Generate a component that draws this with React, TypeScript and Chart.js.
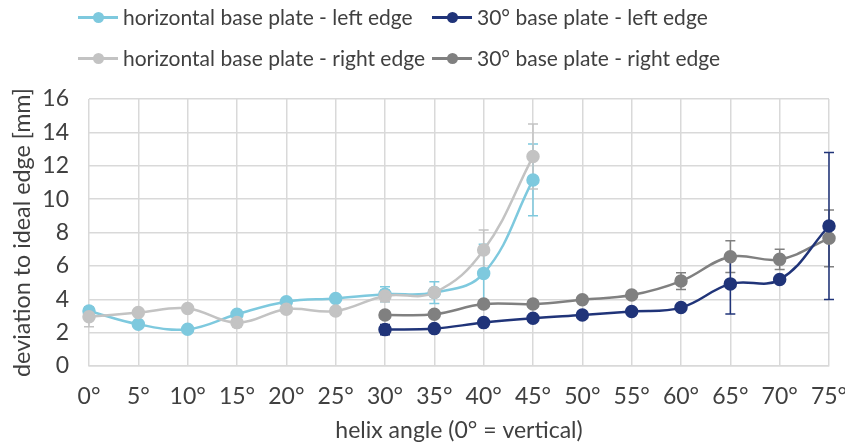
import React, { useEffect, useRef } from "react";
import { Chart, registerables } from "chart.js";

Chart.register(...registerables);

const categories = ["0°", "5°", "10°", "15°", "20°", "25°", "30°", "35°", "40°", "45°", "50°", "55°", "60°", "65°", "70°", "75°"];

const horizLeft = [3.3, 2.5, 2.2, 3.1, 3.85, 4.05, 4.3, 4.4, 5.55, 11.15, null, null, null, null, null, null];
const horizLeftErr = [0.15, 0.1, 0.1, 0.15, 0.15, 0.1, 0.45, 0.65, 1.75, 2.15, null, null, null, null, null, null];

const horizRight = [2.95, 3.2, 3.45, 2.6, 3.4, 3.3, 4.2, 4.4, 6.95, 12.55, null, null, null, null, null, null];
const horizRightErr = [0.6, 0.1, 0.1, 0.25, 0.2, 0.1, 0.35, 0.2, 1.2, 1.95, null, null, null, null, null, null];

const tiltLeft = [null, null, null, null, null, null, 2.18, 2.24, 2.6, 2.86, 3.06, 3.27, 3.5, 4.92, 5.18, 8.39];
const tiltLeftErr = [null, null, null, null, null, null, 0.3, 0.1, 0.1, 0.1, 0.1, 0.1, 0.1, 1.8, 0.1, 4.4];

const tiltRight = [null, null, null, null, null, null, 3.06, 3.1, 3.71, 3.71, 3.97, 4.25, 5.09, 6.55, 6.39, 7.65];
const tiltRightErr = [null, null, null, null, null, null, 0.1, 0.1, 0.1, 0.1, 0.1, 0.1, 0.5, 0.95, 0.6, 1.7];

const seriesNames = [
  "horizontal base plate - left edge",
  "30° base plate - left edge",
  "horizontal base plate - right edge",
  "30° base plate - right edge",
];
const colors = ["#7EC9DE", "#203479", "#C3C3C3", "#808080"];

const FONT = "Lato, 'Open Sans', sans-serif";
const FS = 23;
const LEGEND_FS = 21;

const errorBarPlugin = {
  id: "errorBars",
  beforeDatasetsDraw(chart: any) {
    const ctx = chart.ctx;
    const xs = chart.scales.x;
    const ys = chart.scales.y;
    chart.data.datasets.forEach((ds: any) => {
      const errs = ds.errors as (number | null)[];
      if (!errs) return;
      ctx.save();
      ctx.strokeStyle = ds.borderColor;
      ctx.lineWidth = 1.5;
      ds.data.forEach((v: number | null, i: number) => {
        const e = errs[i];
        if (v == null || e == null) return;
        const x = xs.getPixelForValue(i);
        const y1 = ys.getPixelForValue(v + e);
        const y2 = ys.getPixelForValue(v - e);
        ctx.beginPath();
        ctx.moveTo(x, y1);
        ctx.lineTo(x, y2);
        ctx.moveTo(x - 5, y1);
        ctx.lineTo(x + 5, y1);
        ctx.moveTo(x - 5, y2);
        ctx.lineTo(x + 5, y2);
        ctx.stroke();
      });
      ctx.restore();
    });
  },
};

function LegendItem({ color, label, left, top }: { color: string; label: string; left: number; top: number }) {
  return (
    <div style={{ position: "absolute", left, top, height: 24, display: "flex", alignItems: "center", whiteSpace: "nowrap" }}>
      <div style={{ position: "relative", width: 40, height: 12, marginRight: 5 }}>
        <div style={{ position: "absolute", left: 0, right: 0, top: 5, height: 3, background: color }} />
        <div style={{ position: "absolute", left: 15, top: 1, width: 11, height: 11, borderRadius: "50%", background: color }} />
      </div>
      <span style={{ lineHeight: "24px" }}>{label}</span>
    </div>
  );
}

export default function App() {
  const canvasRef = useRef<HTMLCanvasElement>(null);

  useEffect(() => {
    document.body.style.margin = "0";
    const mk = (i: number, data: any[], errs: any[], order: number) => ({
      label: seriesNames[i],
      data,
      errors: errs,
      borderColor: colors[i],
      backgroundColor: colors[i],
      pointBackgroundColor: colors[i],
      pointBorderColor: colors[i],
      pointRadius: 5.5,
      pointHoverRadius: 5.5,
      borderWidth: 2.5,
      tension: 0.4,
      order,
    });
    const chart = new Chart(canvasRef.current!, {
      type: "line",
      data: {
        labels: categories,
        datasets: [
          mk(3, tiltRight, tiltRightErr, 4),
          mk(1, tiltLeft, tiltLeftErr, 3),
          mk(0, horizLeft, horizLeftErr, 2),
          mk(2, horizRight, horizRightErr, 1),
        ] as any,
      },
      options: {
        animation: false,
        responsive: false,
        layout: { padding: { top: 99, right: 16, left: 0, bottom: 0 } },
        plugins: { legend: { display: false }, tooltip: { enabled: false } },
        scales: {
          x: {
            offset: false,
            grid: { color: "#D9D9D9", lineWidth: 1.5, drawTicks: false },
            border: { color: "#D9D9D9", width: 1.5 },
            ticks: { color: "#404040", font: { family: FONT, size: FS }, padding: 17, maxRotation: 0, autoSkip: false },
            title: {
              display: true,
              text: "helix angle (0° = vertical)",
              color: "#404040",
              font: { family: FONT, size: FS },
              padding: { top: 4, bottom: -1 },
            },
            afterFit: (s: any) => {
              s.height = 77;
              s.paddingRight = 0;
              s.paddingLeft = 0;
            },
          },
          y: {
            min: 0,
            max: 16,
            grid: { color: "#D9D9D9", lineWidth: 1.5, drawTicks: false },
            border: { display: false },
            ticks: { stepSize: 2, color: "#404040", font: { family: FONT, size: FS }, padding: 20 },
            title: {
              display: true,
              text: "deviation to ideal edge [mm]",
              color: "#404040",
              font: { family: FONT, size: 23.3 },
              padding: { top: 8, bottom: 0 },
            },
            afterFit: (s: any) => {
              s.width = 89;
              s.paddingTop = 0;
              s.paddingBottom = 0;
            },
          },
        },
      },
      plugins: [errorBarPlugin],
    });
    return () => chart.destroy();
  }, []);

  return (
    <div style={{ position: "relative", width: 845, height: 443, fontFamily: FONT, fontSize: LEGEND_FS, color: "#404040" }}>
      <canvas ref={canvasRef} width={845} height={443} style={{ position: "absolute", left: 0, top: 0 }} />
      <LegendItem color={colors[0]} label={seriesNames[0]} left={78} top={5} />
      <LegendItem color={colors[1]} label={seriesNames[1]} left={432} top={5} />
      <LegendItem color={colors[2]} label={seriesNames[2]} left={78} top={46} />
      <LegendItem color={colors[3]} label={seriesNames[3]} left={432} top={46} />
    </div>
  );
}
